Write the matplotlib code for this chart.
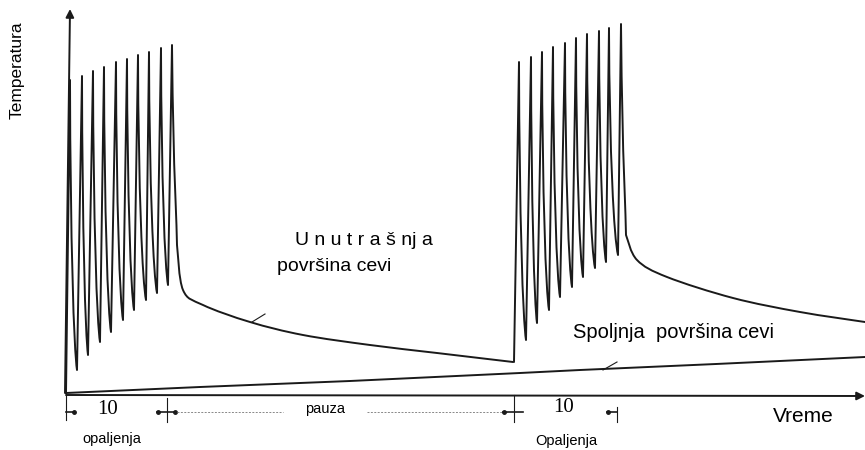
import matplotlib
matplotlib.use("Agg")
import matplotlib.pyplot as plt
from matplotlib.path import Path
from matplotlib.patches import PathPatch
import numpy as np

# ---- data (time units / temperature units) ----
burst1_peak_t = [4, 16, 27, 38, 50, 61, 72, 83, 95, 106]
burst1_peak_T = [315, 319, 324, 328, 333, 336, 340, 343, 347, 350]
burst1_trough_t = [11, 22, 34, 45, 57, 68, 80, 91, 102]
burst1_trough_T = [25, 40, 53, 63, 75, 85, 95, 102, 110]
decay1_t = [111, 117, 137, 184, 237, 304, 371, 447]
decay1_T = [150, 105, 90, 73, 60, 50, 42, 33]

burst2_peak_t = [453, 465, 476, 487, 499, 510, 521, 533, 543, 555]
burst2_peak_T = [333, 338, 343, 348, 352, 357, 361, 364, 367, 371]
burst2_trough_t = [460, 471, 483, 494, 506, 517, 529, 540, 552]
burst2_trough_T = [55, 72, 85, 98, 108, 118, 127, 133, 140]
decay2_t = [560, 571, 601, 667, 734, 799]
decay2_T = [160, 135, 118, 97, 83, 73]

outer_t = [0, 134, 284, 454, 514, 650, 799]
outer_T = [2, 8, 14, 22, 25, 31, 38]

start_point = (0, 2)

fig = plt.figure(figsize=(8.65, 4.5), dpi=100)
ax = fig.add_axes([0, 0, 1, 1])
ax.set_xlim(-66, 799)
ax.set_ylim(-55, 395)
ax.axis("off")

LC = "#1a1a1a"


def spike_fall(verts, codes, p, v):
    tp, Tp = p
    tv, Tv = v
    dt = tv - tp
    dT = Tp - Tv
    verts += [(tp + 0.06 * dt, Tp - 0.55 * dT), (tv - 0.45 * dt, Tv + 0.07 * dT), (tv, Tv)]
    codes += [Path.CURVE4] * 3


def catmull(verts, codes, pts):
    pts = np.asarray(pts, float)
    n = len(pts)
    for i in range(n - 1):
        p0 = pts[i - 1] if i > 0 else pts[i]
        p1 = pts[i]
        p2 = pts[i + 1]
        p3 = pts[i + 2] if i + 2 < n else pts[i + 1]
        c1 = p1 + (p2 - p0) / 6.0
        c2 = p2 - (p3 - p1) / 6.0
        verts += [tuple(c1), tuple(c2), tuple(p2)]
        codes += [Path.CURVE4] * 3


def burst_path(start, peak_t, peak_T, tr_t, tr_T, dec_t, dec_T):
    verts = [start]
    codes = [Path.MOVETO]
    peaks = list(zip(peak_t, peak_T))
    troughs = list(zip(tr_t, tr_T))
    for i, p in enumerate(peaks):
        verts.append(p)
        codes.append(Path.LINETO)
        if i < len(troughs):
            spike_fall(verts, codes, p, troughs[i])
    # final decay
    last = peaks[-1]
    first_dec = (dec_t[0], dec_T[0])
    verts += [(last[0] + 0.3 * (first_dec[0] - last[0]), last[1] - 0.7 * (last[1] - first_dec[1])),
              (first_dec[0] - 0.2, first_dec[1] + 25), first_dec]
    codes += [Path.CURVE4] * 3
    catmull(verts, codes, list(zip(dec_t, dec_T)))
    return Path(verts, codes)


p1 = burst_path(start_point, burst1_peak_t, burst1_peak_T, burst1_trough_t, burst1_trough_T,
                decay1_t, decay1_T)
ax.add_patch(PathPatch(p1, fill=False, lw=1.4, ec=LC, capstyle="round", joinstyle="round"))
p2 = burst_path((decay1_t[-1] + 1, decay1_T[-1]), burst2_peak_t, burst2_peak_T, burst2_trough_t,
                burst2_trough_T, decay2_t, decay2_T)
ax.add_patch(PathPatch(p2, fill=False, lw=1.4, ec=LC, capstyle="round", joinstyle="round"))

# outer surface
ax.plot(outer_t, outer_T, color=LC, lw=1.4)

# axes with arrows
ax.annotate("", xy=(799, -1), xytext=(0, 0),
            arrowprops=dict(arrowstyle="-|>", color=LC, lw=1.4, mutation_scale=12, shrinkA=0, shrinkB=0))
ax.annotate("", xy=(4, 386), xytext=(-1, 2),
            arrowprops=dict(arrowstyle="-|>", color=LC, lw=1.4, mutation_scale=12, shrinkA=0, shrinkB=0))

# leader ticks
ax.plot([186, 199], [73, 81], color=LC, lw=0.8)
ax.plot([537, 551], [25, 33], color=LC, lw=0.8)

# dimension marks
for t, a, b in [(0, 2, -25), (101, -3, -27), (448, 0, -27), (551, -12, -27)]:
    ax.plot([t, t], [a, b], color=LC, lw=0.8)
dimT = -17
ax.plot([0, 8], [dimT, dimT], color=LC, lw=1.2)
ax.plot([8], [dimT], "o", color=LC, ms=2.5)
ax.plot([91, 110], [dimT, dimT], color=LC, lw=1.2)
ax.plot([92, 109], [dimT, dimT], "o", color=LC, ms=2.5)
ax.plot([111, 217], [dimT, dimT], color="#888888", lw=0.7, ls=(0, (2, 1.5)))
ax.plot([301, 441], [dimT, dimT], color="#888888", lw=0.7, ls=(0, (2, 1.5)))
ax.plot([437, 457], [dimT, dimT], color=LC, lw=1.2)
ax.plot([438], [dimT], "o", color=LC, ms=2.5)
ax.plot([541, 551], [dimT, dimT], color=LC, lw=1.2)
ax.plot([542], [dimT], "o", color=LC, ms=2.5)

# texts
sans = "Liberation Sans"
ax.text(-49, 325, "Temperatura", rotation=90, ha="center", va="center", fontsize=12.5, family=sans)
ax.text(229, 150, "U n u t r a š nj a", ha="left", va="baseline", fontsize=14, family=sans)
ax.text(211, 124, "površina cevi", ha="left", va="baseline", fontsize=14, family=sans)
ax.text(507, 57, "Spoljnja  površina cevi", ha="left", va="baseline", fontsize=14.5, family=sans)
ax.text(707, -27, "Vreme", ha="left", va="baseline", fontsize=15, family=sans)
ax.text(16, -48, "opaljenja", ha="left", va="baseline", fontsize=10.5, family=sans)
ax.text(469, -50, "Opaljenja", ha="left", va="baseline", fontsize=10.5, family=sans)
ax.text(239, -18, "pauza", ha="left", va="baseline", fontsize=10.5, family=sans)
ax.text(31, -19, "10", ha="left", va="baseline", fontsize=15, family="Liberation Serif")
ax.text(487, -17, "10", ha="left", va="baseline", fontsize=15, family="Liberation Serif")

fig.savefig("out.png", dpi=100)
